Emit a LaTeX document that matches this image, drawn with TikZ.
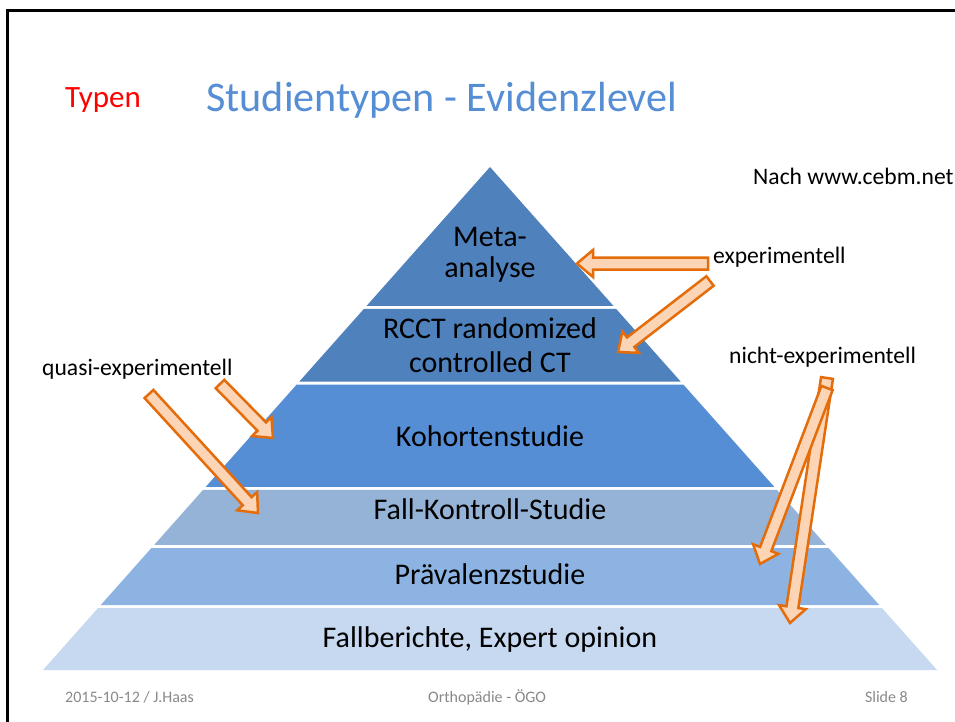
\documentclass[tikz,border=0pt]{standalone}
\usepackage{fontspec}
\setmainfont{Carlito}
\usetikzlibrary{calc}
\definecolor{bandA}{HTML}{4F81BD}
\definecolor{bandB}{HTML}{558ED5}
\definecolor{bandC}{HTML}{95B3D7}
\definecolor{bandD}{HTML}{8DB3E2}
\definecolor{bandE}{HTML}{C6D9F1}
\definecolor{titleblue}{HTML}{558ED5}
\definecolor{arrline}{HTML}{E46C0A}
\definecolor{arrfill}{HTML}{FBD5B5}
\definecolor{footgray}{HTML}{898989}
\tikzset{
  bandtext/.style={inner sep=0pt, anchor=base, font=\fontsize{30}{36}\selectfont, text=black},
  sidelabel/.style={inner sep=0pt, anchor=base west, font=\fontsize{23.6}{28}\selectfont, text=black},
  foot/.style={inner sep=0pt, font=\fontsize{16}{19}\selectfont, text=footgray},
  barrowstyle/.style={draw=arrline, fill=arrfill, line width=2.5pt, line join=miter},
}
\newcommand\blockarrow[5]{%
  \coordinate (#1-tail) at (#2,#3);
  \coordinate (#1-tip) at (#4,#5);
  \pgfmathsetmacro\baang{atan2(#3-#5,#4-#2)}%
  \pgfmathsetmacro\balen{veclen(#4-#2,#5-#3)}%
  \pgfmathsetmacro\bahx{\balen-16}%
  \draw[barrowstyle, shift={(#1-tail)}, rotate=\baang]
    (0pt,6pt) -- (\bahx pt,6pt) -- (\bahx pt,13.5pt) -- (\balen pt,0pt)
    -- (\bahx pt,-13.5pt) -- (\bahx pt,-6pt) -- (0pt,-6pt) -- cycle;
}
\begin{document}
\begin{tikzpicture}[x=1pt,y=-1pt]
\useasboundingbox (0,0) rectangle (955,722);
\fill[white] (0,0) rectangle (955,722);
% frame
\draw[line width=2.7pt] (7.5,722) -- (7.5,10.7) -- (955,10.7);
% titles
\node[inner sep=0pt, anchor=base west, text=red, font=\fontsize{31}{36}\selectfont] (typen) at (65,108) {Typen};
\node[inner sep=0pt, anchor=base west, text=titleblue, font=\fontsize{42.2}{50}\selectfont] (title) at (206,112) {Studientypen - Evidenzlevel};
% pyramid
\coordinate (apex) at (490,167);
\coordinate (bl) at (43,670);
\coordinate (br) at (937,670);
\newcommand\pband[3]{%
  \fill[#3] ($(apex)!{(#1-167)/503}!(bl)$) -- ($(apex)!{(#1-167)/503}!(br)$)
    -- ($(apex)!{(#2-167)/503}!(br)$) -- ($(apex)!{(#2-167)/503}!(bl)$) -- cycle;}
\pband{167}{306}{bandA}
\pband{309}{381.5}{bandA}
\pband{384.5}{487}{bandB}
\pband{490}{545}{bandC}
\pband{548}{605}{bandD}
\pband{608}{670}{bandE}
% band texts
\node[bandtext] (meta1) at (490,246) {Meta-};
\node[bandtext] (meta2) at (490,277) {analyse};
\node[bandtext] (rcct1) at (490,338) {RCCT randomized};
\node[bandtext] (rcct2) at (490,372) {controlled CT};
\node[bandtext] (kohorte) at (490,446) {Kohortenstudie};
\node[bandtext] (fallk) at (490,519) {Fall-Kontroll-Studie};
\node[bandtext] (praev) at (490,584) {Prävalenzstudie};
\node[bandtext] (fallb) at (490,647) {Fallberichte, Expert opinion};
% side labels
\node[sidelabel] (cebm) at (753,185) {Nach www.cebm.net};
\node[sidelabel] (exp) at (713,263) {experimentell};
\node[sidelabel] (nexp) at (729,363) {nicht-experimentell};
\node[sidelabel] (qexp) at (42,375) {quasi-experimentell};
% arrows
\blockarrow{aA}{708}{263.5}{577}{263.5}
\blockarrow{aB}{710}{281}{618}{352}
\blockarrow{aC}{220}{384}{273}{438}
\blockarrow{aD}{149}{394}{258}{513}
\blockarrow{aF}{827}{378}{790}{623}
\blockarrow{aE}{827}{388}{760}{564}
% footer
\node[foot, anchor=base west] (date) at (65,702) {2015-10-12 / J.Haas};
\node[foot, anchor=base west] (org) at (428,702) {Orthopädie - ÖGO};
\node[foot, anchor=base east] (slide) at (908,702) {Slide 8};
\end{tikzpicture}
\end{document}
